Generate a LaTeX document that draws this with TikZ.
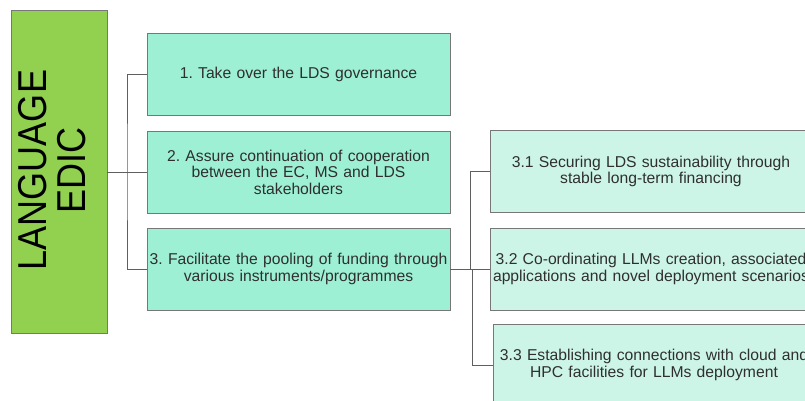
\documentclass[tikz,border=0pt]{standalone}
\usepackage{fontspec}
\setmainfont{Liberation Sans}
\usepackage{xcolor}
\definecolor{edgeGray}{HTML}{777777}
\definecolor{textDark}{HTML}{2F2F2F}
\definecolor{rootColor}{HTML}{92D050}
\definecolor{objColor}{HTML}{9DF0D3}
\definecolor{subColor}{HTML}{CDF5E7}
\usepackage{tikz}
\usetikzlibrary{positioning,calc}
\frenchspacing
\tikzset{
  rootBox/.style={
    rectangle,
    draw=edgeGray,
    fill=rootColor,
    minimum width=96pt,
    minimum height=323pt,
    inner sep=0pt
 },
  objBox/.style={
    rectangle,
    draw=edgeGray,
    fill=objColor,
    minimum width=303pt,
    minimum height=82pt,
    text width=299pt,
    inner sep=2pt,
    text=textDark,
    align=center,
    font=\fontsize{15.7}{16.5}\selectfont
 },
  subBox/.style={
    rectangle,
    draw=edgeGray,
    fill=subColor,
    minimum width=322pt,
    minimum height=82pt,
    text width=318pt,
    inner sep=2pt,
    text=textDark,
    align=center,
    font=\fontsize{15.7}{16.5}\selectfont
 },
  linkLine/.style={
    draw=edgeGray!80!black,
    line width=0.8pt
 }
}
\begin{document}
\begin{tikzpicture}[x=1pt,y=-1pt]
            \useasboundingbox (0,0) rectangle (805,400);
            \clip (0,0) rectangle (805,400);

            \node[rootBox] (root) at (59,171.5) {};
            \node[rotate=90, inner sep=0pt, font=\fontsize{36}{40}\selectfont] (rootText) at (57,170)
              {\scalebox{1}[1.12]{\begin{tabular}{@{}c@{}}LANGUAGE\\[-5pt]EDIC\end{tabular}}};

            \node[objBox] (objOne) at (298.5,74) {1. Take over the LDS governance};
            \node[objBox] (objTwo) at (298.5,172) {2. Assure continuation of cooperation\\between the EC, MS and LDS\\stakeholders};
            \node[objBox] (objThree) at (298.5,269) {3. Facilitate the pooling of funding through\\various instruments/programmes};

            \node[subBox] (subOne) at (651,171.5) {3.1 Securing LDS sustainability through\\stable long-term financing};
            \node[subBox] (subTwo) at (651,269) {3.2 Co-ordinating LLMs creation, associated\\applications and novel deployment scenarios};
            \node[subBox] (subThree) at (654,365) {3.3 Establishing connections with cloud and\\HPC facilities for LLMs deployment};

            % first level
            \coordinate (trunkMain) at (127,172);
            \draw[linkLine] (root.east |- objTwo.west) -- (objTwo.west);
            \draw[linkLine] (objOne.west) -| (trunkMain) |- (objThree.west);

            % second level
            \coordinate (busTop) at (470,269);
            \coordinate (busBot) at (472,269);
            \draw[linkLine] (objThree.east) -- (subTwo.west);
            \draw[linkLine] (subOne.west) -| (busTop);
            \draw[linkLine] (busBot) |- (subThree.west);

        \end{tikzpicture}
\end{document}
